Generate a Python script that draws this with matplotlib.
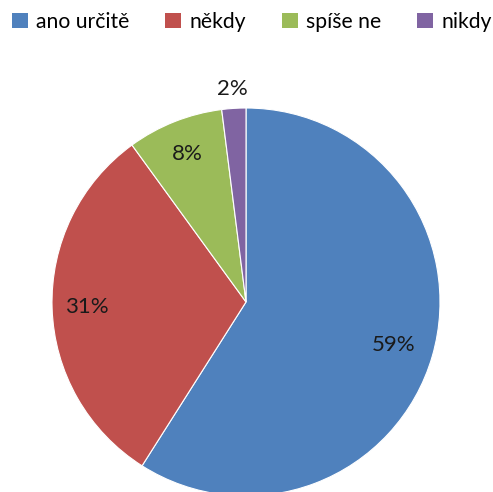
import numpy as np
import matplotlib
matplotlib.use('Agg')
import matplotlib.pyplot as plt
from matplotlib.patches import Patch

# survey answers
labels = ['ano určitě', 'někdy', 'spíše ne', 'nikdy']
values = [59, 31, 8, 2]
colors = ['#4F81BD', '#C0504D', '#9BBB59', '#8064A2']
label_dist = [0.79, 0.82, 0.82, 1.10]

plt.rcParams['font.family'] = ['Lato', 'DejaVu Sans']

W, H = 493, 492
fig = plt.figure(figsize=(W / 100, H / 100), dpi=100)
ax = fig.add_axes([0, 0, 1, 1])

cx, cy, r = 246, H - 302, 194
wedges, _ = ax.pie(values, colors=colors, startangle=90, counterclock=False,
                   center=(cx, cy), radius=r, frame=True,
                   wedgeprops=dict(edgecolor='white', linewidth=0.8))
ax.set_xlim(0, W)
ax.set_ylim(0, H)
ax.axis('off')

total = float(sum(values))
start = 90.0
for v, d in zip(values, label_dist):
    mid = np.deg2rad(start - v / total * 360 / 2)
    start -= v / total * 360
    ax.text(cx + d * r * np.cos(mid), cy + d * r * np.sin(mid), '%d%%' % v,
            ha='center', va='center', fontsize=16, color='#1a1a1a')

handles = [Patch(facecolor=c, edgecolor='none') for c in colors]
fig.legend(handles, labels, loc='upper center', bbox_to_anchor=(0.511, 0.995),
           ncol=4, frameon=False, fontsize=15.2, handlelength=0.75,
           handleheight=0.75, handletextpad=0.4, columnspacing=1.7,
           borderaxespad=0.05)

fig.savefig('out.png', dpi=100)
